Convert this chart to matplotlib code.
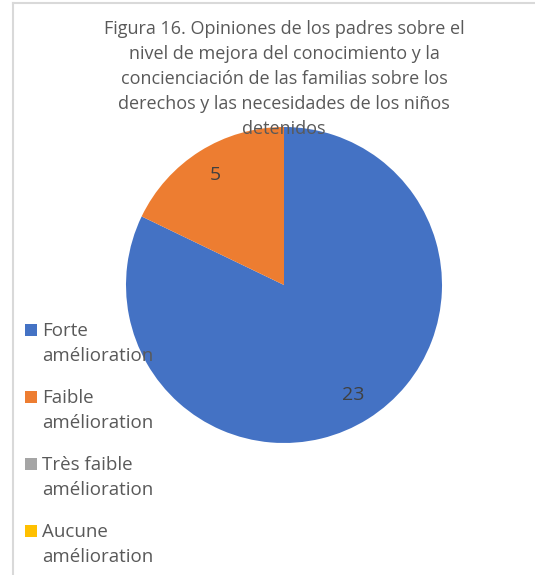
import matplotlib.pyplot as plt
from matplotlib.patches import Rectangle
from matplotlib.lines import Line2D

# data
categories = ["Forte\namélioration", "Faible\namélioration",
              "Très faible\namélioration", "Aucune\namélioration"]
counts = [23, 5, 0, 0]
colors = ["#4472C4", "#ED7D31", "#A5A5A5", "#FFC000"]

title = ("Figura 16. Opiniones de los padres sobre el\n"
         "nivel de mejora del conocimiento y la\n"
         "concienciación de las familias sobre los\n"
         "derechos y las necesidades de los niños\n"
         "detenidos")

plt.rcParams['font.family'] = ['Open Sans', 'DejaVu Sans']
W, H = 535, 575
fig = plt.figure(figsize=(W / 100, H / 100), dpi=100)

# light frame like the Excel chart area
fig.add_artist(Line2D([13 / W, 13 / W], [0, 1 - 3 / H], color="#D9D9D9", lw=1.5))
fig.add_artist(Line2D([13 / W, 1], [1 - 3 / H, 1 - 3 / H], color="#D9D9D9", lw=1.5))

# pie axes
cx, cy, r = 284, 285, 158
ax = fig.add_axes([(cx - r) / W, (H - cy - r) / H, 2 * r / W, 2 * r / H])
total = sum(counts)


def fmt(pct):
    v = round(pct * total / 100)
    return str(v) if v > 0 else ""


wedges, texts, autotexts = ax.pie(counts, colors=colors, startangle=90,
                                  counterclock=False, autopct=fmt,
                                  pctdistance=0.82,
                                  wedgeprops=dict(linewidth=0),
                                  textprops=dict(color="#404040", fontsize=14))
ax.set_xlim(-1, 1)
ax.set_ylim(-1, 1)
ax.set_aspect('equal')

fig.text(cx / W, 1 - 20 / H, title, ha='center', va='top', fontsize=13,
         color="#595959", linespacing=1.5)

# legend: square beside the first line of each entry
for i, (lab, c) in enumerate(zip(categories, colors)):
    y = 330 + i * 67  # centre of the first text line, px from top
    fig.add_artist(Rectangle((25 / W, 1 - (y + 6) / H), 12 / W, 12 / H,
                             facecolor=c, edgecolor='none'))
    fig.text(42 / W, 1 - (y - 8) / H, lab, ha='left', va='top',
             fontsize=13.5, color="#595959", linespacing=1.5)

fig.savefig("out.png", dpi=100)
